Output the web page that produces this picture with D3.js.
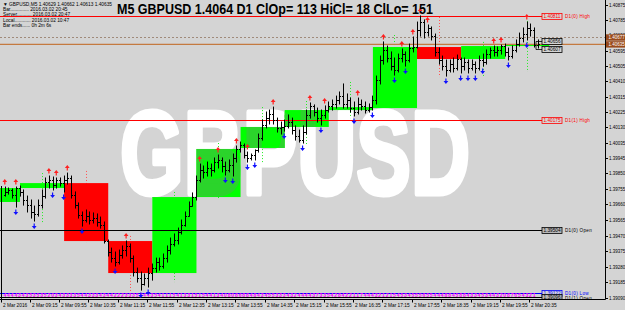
<!DOCTYPE html>
<html>
<head>
<meta charset="utf-8">
<script src="https://cdn.jsdelivr.net/npm/d3@7"></script>
<style>
  body { margin: 0; background: #d4d4d4; }
  svg { display: block; font-family: "Liberation Sans", Arial, sans-serif; }
</style>
</head>
<body>
<svg id="chart" width="625" height="310"></svg>
<script>
// ---- data ----
const symbol = 'GBPUSD';
const titleText = 'M5 GBPUSD 1.4064 D1 ClOp= 113 HiCl= 18 ClLo= 151';
const infoLines = ['\u25BC GBPUSD,M5  1.40629 1.40662 1.40613 1.40635',
                   'Bar.............. 2016.03.02 20:45',
                   'Server........... 2016.03.02 20:47',
                   'Local............ 2016.03.02 10:47',
                   'Bar ends...... 0h 2m 6s'];
const firstBarTime = '2016-03-02 08:40';

// M5 bars: [open, high, low, close]
const m5Bars = [
  [1.39717,1.39766,1.39711,1.39736],[1.39736,1.39760,1.39723,1.39748],[1.39748,1.39754,1.39699,1.39717],[1.39717,1.39766,1.39644,1.39760],
  [1.39760,1.39772,1.39711,1.39736],[1.39736,1.39748,1.39656,1.39687],[1.39687,1.39711,1.39614,1.39656],[1.39656,1.39687,1.39577,1.39614],
  [1.39614,1.39650,1.39559,1.39602],[1.39602,1.39687,1.39589,1.39656],[1.39656,1.39748,1.39638,1.39711],[1.39711,1.39821,1.39699,1.39797],
  [1.39797,1.39833,1.39760,1.39809],[1.39809,1.39827,1.39748,1.39778],[1.39778,1.39821,1.39760,1.39809],[1.39809,1.39821,1.39772,1.39790],
  [1.39790,1.39833,1.39736,1.39809],[1.39809,1.39851,1.39784,1.39821],[1.39821,1.39833,1.39699,1.39717],[1.39717,1.39736,1.39638,1.39656],
  [1.39656,1.39669,1.39577,1.39595],[1.39595,1.39614,1.39528,1.39565],[1.39565,1.39626,1.39553,1.39589],[1.39589,1.39614,1.39541,1.39565],
  [1.39565,1.39608,1.39547,1.39577],[1.39577,1.39602,1.39528,1.39553],[1.39553,1.39583,1.39516,1.39535],[1.39535,1.39553,1.39425,1.39437],
  [1.39437,1.39443,1.39346,1.39370],[1.39370,1.39394,1.39309,1.39333],[1.39333,1.39370,1.39285,1.39309],[1.39309,1.39382,1.39297,1.39352],
  [1.39352,1.39407,1.39333,1.39382],[1.39382,1.39437,1.39346,1.39407],[1.39407,1.39419,1.39309,1.39333],[1.39333,1.39346,1.39224,1.39248],
  [1.39248,1.39272,1.39187,1.39211],[1.39211,1.39248,1.39138,1.39175],[1.39175,1.39236,1.39169,1.39211],[1.39211,1.39272,1.39157,1.39242],
  [1.39242,1.39297,1.39199,1.39272],[1.39272,1.39333,1.39248,1.39309],[1.39309,1.39333,1.39260,1.39285],[1.39285,1.39358,1.39272,1.39333],
  [1.39333,1.39407,1.39309,1.39382],[1.39382,1.39455,1.39358,1.39419],[1.39419,1.39480,1.39407,1.39443],[1.39443,1.39516,1.39419,1.39492],
  [1.39492,1.39565,1.39480,1.39535],[1.39535,1.39614,1.39528,1.39589],[1.39589,1.39675,1.39589,1.39650],[1.39650,1.39730,1.39650,1.39705],
  [1.39705,1.39833,1.39687,1.39809],[1.39809,1.39906,1.39797,1.39870],[1.39870,1.39894,1.39821,1.39858],[1.39858,1.39918,1.39833,1.39882],
  [1.39882,1.39906,1.39833,1.39870],[1.39870,1.39943,1.39858,1.39918],[1.39918,1.39961,1.39882,1.39931],[1.39931,1.39943,1.39858,1.39894],
  [1.39894,1.39918,1.39839,1.39870],[1.39870,1.39931,1.39858,1.39900],[1.39900,1.39967,1.39833,1.39943],[1.39943,1.40016,1.39918,1.39998],
  [1.39998,1.40040,1.39979,1.40022],[1.40022,1.40028,1.39943,1.39961],[1.39961,1.39979,1.39918,1.39943],[1.39943,1.39967,1.39931,1.39961],
  [1.39961,1.39992,1.39931,1.39992],[1.39992,1.40089,1.39979,1.40065],[1.40065,1.40174,1.40052,1.40144],[1.40144,1.40223,1.40126,1.40186],
  [1.40186,1.40235,1.40150,1.40211],[1.40211,1.40253,1.40150,1.40174],[1.40174,1.40186,1.40101,1.40126],[1.40126,1.40162,1.40089,1.40132],
  [1.40132,1.40174,1.40107,1.40138],[1.40138,1.40205,1.40126,1.40162],[1.40162,1.40186,1.40089,1.40113],[1.40113,1.40138,1.40052,1.40077],
  [1.40077,1.40113,1.40040,1.40052],[1.40052,1.40138,1.40034,1.40101],[1.40101,1.40235,1.40089,1.40205],[1.40205,1.40278,1.40186,1.40260],
  [1.40260,1.40266,1.40199,1.40223],[1.40223,1.40247,1.40162,1.40186],[1.40186,1.40235,1.40144,1.40205],[1.40205,1.40260,1.40186,1.40235],
  [1.40235,1.40284,1.40223,1.40260],[1.40260,1.40296,1.40235,1.40272],[1.40272,1.40320,1.40247,1.40296],[1.40296,1.40345,1.40272,1.40320],
  [1.40320,1.40394,1.40247,1.40272],[1.40272,1.40333,1.40247,1.40296],[1.40296,1.40308,1.40223,1.40247],[1.40247,1.40284,1.40199,1.40223],
  [1.40223,1.40308,1.40211,1.40272],[1.40272,1.40296,1.40235,1.40260],[1.40260,1.40284,1.40217,1.40235],[1.40235,1.40272,1.40223,1.40253],
  [1.40253,1.40320,1.40235,1.40296],[1.40296,1.40442,1.40272,1.40418],[1.40418,1.40564,1.40394,1.40540],[1.40540,1.40650,1.40515,1.40601],
  [1.40601,1.40625,1.40528,1.40552],[1.40552,1.40589,1.40479,1.40503],[1.40503,1.40552,1.40448,1.40479],[1.40479,1.40576,1.40467,1.40552],
  [1.40552,1.40607,1.40528,1.40576],[1.40576,1.40589,1.40503,1.40540],[1.40540,1.40637,1.40528,1.40613],[1.40613,1.40680,1.40589,1.40619],
  [1.40619,1.40771,1.40613,1.40723],[1.40723,1.40808,1.40686,1.40771],[1.40771,1.40784,1.40674,1.40710],[1.40710,1.40753,1.40686,1.40735],
  [1.40735,1.40741,1.40662,1.40686],[1.40686,1.40698,1.40564,1.40589],[1.40589,1.40613,1.40515,1.40540],[1.40540,1.40564,1.40479,1.40503],
  [1.40503,1.40540,1.40442,1.40479],[1.40479,1.40540,1.40467,1.40515],[1.40515,1.40552,1.40467,1.40491],[1.40491,1.40570,1.40479,1.40546],
  [1.40546,1.40552,1.40461,1.40503],[1.40503,1.40552,1.40479,1.40528],[1.40528,1.40540,1.40461,1.40491],[1.40491,1.40540,1.40479,1.40515],
  [1.40515,1.40528,1.40461,1.40491],[1.40491,1.40564,1.40479,1.40540],[1.40540,1.40576,1.40503,1.40528],[1.40528,1.40601,1.40515,1.40576],
  [1.40576,1.40613,1.40552,1.40601],[1.40601,1.40625,1.40564,1.40589],[1.40589,1.40619,1.40564,1.40601],[1.40601,1.40631,1.40576,1.40625],
  [1.40625,1.40637,1.40564,1.40589],[1.40589,1.40613,1.40540,1.40564],[1.40564,1.40625,1.40552,1.40601],[1.40601,1.40662,1.40589,1.40637],
  [1.40637,1.40704,1.40625,1.40674],[1.40674,1.40735,1.40650,1.40698],[1.40698,1.40771,1.40662,1.40735],[1.40735,1.40759,1.40686,1.40723],
  [1.40723,1.40735,1.40619,1.40629],[1.40629,1.40662,1.40613,1.40635]
];

// H1 candles drawn as boxes (body) + dotted wick
const h1Hours = ['08:00','09:00','10:00','11:00','12:00','13:00','14:00','15:00','16:00','17:00','18:00','19:00','20:00'];
const h1Open  = [1.39675,1.39760,1.39790,1.39437,1.39242,1.39705,1.40004,1.40132,1.40235,1.40247,1.40619,1.40546,1.40625];
const h1High  = [1.39809,1.39851,1.39864,1.39468,1.39736,1.40034,1.40253,1.40290,1.40406,1.40692,1.40802,1.40650,1.40778];
const h1Low   = [1.39614,1.39547,1.39425,1.39126,1.39187,1.39687,1.39918,1.40022,1.40186,1.40235,1.40436,1.40436,1.40467];
const h1Close = [1.39760,1.39790,1.39437,1.39242,1.39705,1.39998,1.40132,1.40235,1.40253,1.40619,1.40546,1.40625,1.40635];

// fractal arrows (bar indexes)
const fractalUp   = [0,3,12,14,17,33,53,58,63,66,73,83,87,96,103,108,111,113,115,133,135,142];
const fractalDown = [3,8,13,16,21,30,37,39,60,62,66,68,76,81,86,95,100,106,109,120,124,126,128,130,137,142];

// daily levels
const levelNames  = ['D1(0) High','D1(1) High','D1(0) Open','D1(0) Low','D1(1) Open'];
const levelPrices = [1.40811, 1.40175, 1.39504, 1.39122, 1.39096];

const bidPrice = 1.40635;
const askPrice = 1.40677;
const markPrices = [1.40656, 1.40607];

const priceTicks = [1.40875,1.40785,1.40690,1.40595,1.40505,1.40410,1.40315,1.40225,1.40130,1.40035,
                    1.39945,1.39850,1.39755,1.39660,1.39565,1.39470,1.39375,1.39280,1.39185,1.39090];
const firstTimeLabel = '2 Mar 2016';
const timeTicks = ['09:15','09:55','10:35','11:15','11:55','12:35','13:15','13:55','14:35',
                   '15:15','15:55','16:35','17:15','17:55','18:35','19:15','19:55','20:35'];
const barDigits = '4444343535352034333354433343442223335344354111541331515441340808688484345533343244443733542842211744432121545345556554448845884334534432087654321';

// ---- layout ----
const plotRight = 605.5, plotBottom = 299.5;
const barStep = 3.676, barX0 = 4.8;
const bg = '#d4d4d4';

const svg = d3.select('#chart');
const parse = d3.timeParse('%Y-%m-%d %H:%M');
const t0 = parse(firstBarTime);
const barTime = i => d3.timeMinute.offset(t0, 5 * i);
const dayStr = '2016-03-02 ';

const x = d3.scaleTime()
  .domain([t0, barTime(m5Bars.length - 1)])
  .range([barX0, barX0 + barStep * (m5Bars.length - 1)]);
const y = d3.scaleLinear()
  .domain([priceTicks[priceTicks.length - 1], priceTicks[0]])
  .range([298, 5]);

svg.append('rect').attr('width', 625).attr('height', 310).attr('fill', bg);

// plot area is a nested svg so everything gets clipped to it
const plot = svg.append('svg').attr('x', 0).attr('y', 0).attr('width', plotRight).attr('height', plotBottom);

// watermark (heavy condensed lettering; the stroke thickens the glyphs)
const wmX = 120, wmY = 194;
const watermark = (sel, col) => sel
  .attr('textLength', 350).attr('lengthAdjust', 'spacingAndGlyphs')
  .attr('font-size', 118).attr('font-weight', 'bold')
  .attr('font-family', '"Liberation Sans Narrow", "Liberation Sans", Arial, sans-serif')
  .attr('fill', col).attr('stroke', col).attr('stroke-width', 5).attr('stroke-linejoin', 'round')
  .text(symbol);
plot.append('text').attr('x', wmX).attr('y', wmY).call(watermark, '#ffffff');

// H1 candles
const h1 = h1Hours.map((h, i) => ({
  start: parse(dayStr + h), o: h1Open[i], hi: h1High[i], lo: h1Low[i], c: h1Close[i]
}));
const isUp = d => d.c >= d.o;
const boxX = d => x(d.start) + 0.5;
const boxW = d => x(d3.timeMinute.offset(d.start, 60)) - x(d.start);
const boxY = d => y(Math.max(d.o, d.c));
const boxH = d => Math.max(1, Math.abs(y(d.o) - y(d.c)));

plot.selectAll('line.h1wick').data(h1).join('line')
  .attr('class', 'h1wick')
  .attr('x1', d => Math.round(x(d3.timeMinute.offset(d.start, 30))) + 0.5)
  .attr('x2', d => Math.round(x(d3.timeMinute.offset(d.start, 30))) + 0.5)
  .attr('y1', d => y(d.hi)).attr('y2', d => y(d.lo))
  .attr('stroke', d => isUp(d) ? '#22ee22' : '#ff5050')
  .attr('stroke-dasharray', '1,2');
plot.selectAll('rect.h1box').data(h1).join('rect')
  .attr('class', 'h1box')
  .attr('x', boxX).attr('width', boxW).attr('y', boxY).attr('height', boxH)
  .attr('fill', d => isUp(d) ? '#00ff00' : '#ff0000');

// the terminal XORs box fills over the white watermark, which turns them duller:
// one small viewport per box, holding a shifted copy of the watermark
plot.selectAll('svg.wm-over').data(h1).join('svg')
  .attr('class', 'wm-over')
  .attr('x', boxX).attr('y', boxY).attr('width', boxW).attr('height', boxH)
  .each(function (d) {
    d3.select(this).append('text')
      .attr('x', wmX - boxX(d)).attr('y', wmY - boxY(d))
      .call(watermark, isUp(d) ? '#2bd42b' : '#d42b2b');
  });

// info block top-left
svg.append('g').selectAll('text').data(infoLines).join('text')
  .attr('x', 3).attr('y', (d, i) => 6 + i * 5.2)
  .attr('font-size', 4.8).attr('fill', '#000')
  .text(d => d);

// daily level lines + labels
const levelCols = ['#ff0000', '#ff0000', '#000000', '#0000ff', '#000000'];
const levelEnd = 542;
levelPrices.forEach((p, i) => {
  const yy = Math.round(y(p)) + 0.5;
  plot.append('line').attr('x1', 0).attr('x2', levelEnd).attr('y1', yy).attr('y2', yy)
    .attr('stroke', levelCols[i]).attr('stroke-width', 1);
  const g = plot.append('g');
  g.append('rect').attr('x', levelEnd).attr('y', yy - 3).attr('width', 20).attr('height', 6)
    .attr('fill', i === 2 || i === 4 ? '#b8b8b8' : bg).attr('stroke', levelCols[i]).attr('stroke-width', 0.8);
  g.append('text').attr('x', levelEnd + 1.5).attr('y', yy + 1.8).attr('font-size', 4.6)
    .attr('textLength', 17).attr('lengthAdjust', 'spacingAndGlyphs')
    .attr('fill', levelCols[i]).text(p.toFixed(5));
  g.append('text').attr('x', levelEnd + 23).attr('y', yy + 1.8 + (i === 4 ? 1 : 0)).attr('font-size', 4.6)
    .attr('fill', levelCols[i]).attr('letter-spacing', 0.3).text(levelNames[i]);
});

// ask (dotted) and bid lines
plot.append('line').attr('x1', 0).attr('x2', plotRight).attr('y1', y(askPrice)).attr('y2', y(askPrice))
  .attr('stroke', '#a08a7a').attr('stroke-dasharray', '2,2');
plot.append('line').attr('x1', 0).attr('x2', plotRight).attr('y1', y(bidPrice)).attr('y2', y(bidPrice))
  .attr('stroke', '#c47a40').attr('stroke-width', 1.3);

// digit row along the bottom
plot.selectAll('text.digit').data(m5Bars).join('text')
  .attr('class', 'digit')
  .attr('x', (d, i) => x(barTime(i))).attr('y', 297.2)
  .attr('text-anchor', 'middle').attr('font-size', 5).attr('font-weight', 'bold').attr('fill', '#ff00ff')
  .text((d, i) => barDigits[i] || '');

// M5 OHLC bars
const bars = plot.append('g').attr('stroke', '#000').attr('stroke-width', 1);
m5Bars.forEach((b, i) => {
  const cx = Math.round(x(barTime(i))) + 0.5;
  const [o, h, l, c] = b;
  bars.append('line').attr('x1', cx).attr('x2', cx).attr('y1', y(h) - 0.5).attr('y2', y(l) + 0.5);
  bars.append('line').attr('x1', cx - 1.5).attr('x2', cx).attr('y1', Math.round(y(o)) + 0.5).attr('y2', Math.round(y(o)) + 0.5);
  bars.append('line').attr('x1', cx).attr('x2', cx + 1.5).attr('y1', Math.round(y(c)) + 0.5).attr('y2', Math.round(y(c)) + 0.5);
});

// fractal arrows
const upArrow = (cx, yy) => `M${cx},${yy - 8} L${cx + 2.4},${yy - 5} L${cx + 0.6},${yy - 5} L${cx + 0.6},${yy - 2.5} L${cx - 0.6},${yy - 2.5} L${cx - 0.6},${yy - 5} L${cx - 2.4},${yy - 5} Z`;
const downArrow = (cx, yy) => `M${cx},${yy + 8} L${cx + 2.4},${yy + 5} L${cx + 0.6},${yy + 5} L${cx + 0.6},${yy + 2.5} L${cx - 0.6},${yy + 2.5} L${cx - 0.6},${yy + 5} L${cx - 2.4},${yy + 5} Z`;
plot.selectAll('path.fup').data(fractalUp).join('path')
  .attr('class', 'fup')
  .attr('d', i => upArrow(x(barTime(i)), y(m5Bars[i][1])))
  .attr('fill', '#ff2020');
plot.selectAll('path.fdn').data(fractalDown).join('path')
  .attr('class', 'fdn')
  .attr('d', i => downArrow(x(barTime(i)), y(m5Bars[i][2])))
  .attr('fill', '#1010ff');

// two small price boxes with bracket right of the last bar
const mk = plot.append('g');
const mkY = markPrices.map(p => Math.round(y(p)) + 0.5);
mk.append('path')
  .attr('d', `M536,${mkY[0]} L542,${mkY[0]} M536,${mkY[0]} L536,${mkY[1]} L542,${mkY[1]}`)
  .attr('stroke', '#000').attr('fill', 'none').attr('stroke-width', 0.8);
markPrices.forEach((p, i) => {
  mk.append('rect').attr('x', 542).attr('y', mkY[i] - 3).attr('width', 20).attr('height', 6)
    .attr('fill', bg).attr('stroke', '#000').attr('stroke-width', 0.8);
  mk.append('text').attr('x', 543.5).attr('y', mkY[i] + 1.8).attr('font-size', 4.6)
    .attr('textLength', 17).attr('lengthAdjust', 'spacingAndGlyphs').text(p.toFixed(5));
});

// title
svg.append('text')
  .attr('x', 117).attr('y', 13.5)
  .attr('font-size', 14).attr('font-weight', 'bold').attr('fill', '#000')
  .attr('textLength', 316).attr('lengthAdjust', 'spacingAndGlyphs')
  .text(titleText);

// frame
svg.append('line').attr('x1', plotRight).attr('x2', plotRight).attr('y1', 0).attr('y2', plotBottom).attr('stroke', '#000');
svg.append('line').attr('x1', 0).attr('x2', plotRight).attr('y1', plotBottom).attr('y2', plotBottom).attr('stroke', '#000');
svg.append('line').attr('x1', 1.5).attr('x2', 1.5).attr('y1', 186).attr('y2', plotBottom).attr('stroke', '#000');

// price axis
const pa = svg.append('g');
priceTicks.forEach(p => {
  const yy = Math.round(y(p)) + 0.5;
  pa.append('line').attr('x1', plotRight).attr('x2', plotRight + 2.5).attr('y1', yy).attr('y2', yy).attr('stroke', '#000');
  pa.append('text').attr('x', 609).attr('y', yy + 1.6).attr('font-size', 4.5).text(p.toFixed(5));
});
[askPrice, bidPrice].forEach(p => {
  const yy = y(p);
  pa.append('rect').attr('x', 606).attr('y', yy - 3.2).attr('width', 19).attr('height', 6.4).attr('fill', '#9a4a1c');
  pa.append('text').attr('x', 608.5).attr('y', yy + 1.6).attr('font-size', 4.5).attr('fill', '#fff').text(p.toFixed(5));
});

// time axis
const ta = svg.append('g');
ta.append('line').attr('x1', 1.5).attr('x2', 1.5).attr('y1', plotBottom).attr('y2', plotBottom + 3).attr('stroke', '#000');
ta.append('text').attr('x', 3).attr('y', 306.5).attr('font-size', 4.8).text(firstTimeLabel);
timeTicks.forEach(t => {
  const xx = Math.round(x(parse(dayStr + t))) - 0.5;
  ta.append('line').attr('x1', xx).attr('x2', xx).attr('y1', plotBottom).attr('y2', plotBottom + 3).attr('stroke', '#000');
  ta.append('text').attr('x', xx + 1.5).attr('y', 306.5).attr('font-size', 4.8).text('2 Mar ' + t);
});
</script>
</body>
</html>
